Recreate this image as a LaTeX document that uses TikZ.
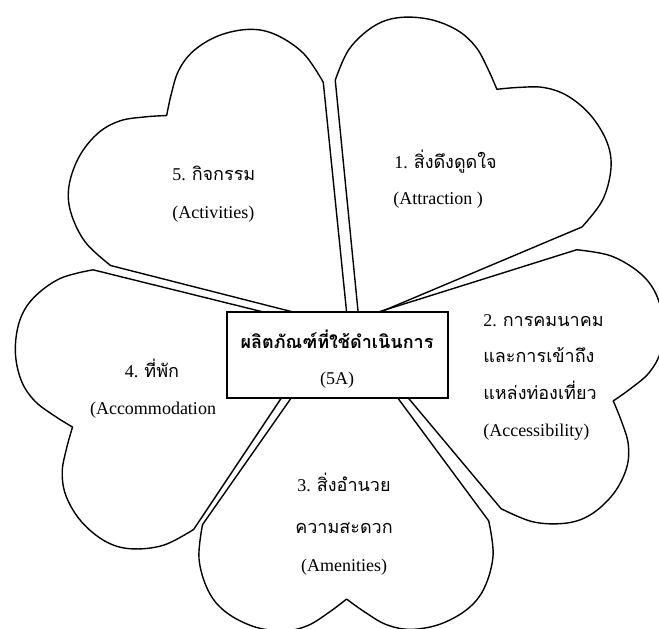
\documentclass[tikz,border=0pt]{standalone}
\usepackage{fontspec}
\setmainfont{Liberation Serif}
\newfontfamily\thai[Script=Thai]{Loma}
\tikzset{
  heartline/.style={line width=1.05pt, line join=round},
  pics/heart/.style={code={
    \draw[heartline] (0,0) -- (145,198)
      -- plot[smooth, tension=0.6] coordinates {(145,198) (149,232) (140,264) (123,285) (95,300) (65,305) (40,300) (18,287) (0,274)}
      -- plot[smooth, tension=0.6] coordinates {(0,274) (-18,287) (-40,300) (-65,305) (-95,300) (-123,285) (-140,264) (-149,232) (-145,198)}
      -- cycle;
  }},
  corebox/.style={draw, fill=white, line width=1.8pt, minimum width=165.75pt, minimum height=64.5pt, inner sep=0pt},
  lbl/.style={font=\fontsize{13.5}{16}\selectfont, inner sep=0pt, anchor=base west},
  clbl/.style={font=\fontsize{13.5}{16}\selectfont, inner sep=0pt, anchor=base},
}
\begin{document}
\begin{tikzpicture}[x=0.75pt, y=0.75pt]
\useasboundingbox (0,0) rectangle (659,628);
% hearts
\pic[shift={(359,307)}, rotate=-30.75, xscale=0.99, yscale=0.984] (h1) {heart};
\pic[shift={(345,305.5)}, rotate=-106.3, xscale=0.93, yscale=1.02] (h2) {heart};
\pic[shift={(343,304)}, rotate=-179.25, xscale=0.987, yscale=1.004] (h3) {heart};
\pic[shift={(328,300)}, rotate=111.2, xscale=0.96, yscale=1.0] (h4) {heart};
\pic[shift={(348,302)}, rotate=40.75, xscale=0.968, yscale=1.014] (h5) {heart};
% centre box
\node[corebox] (core) at (337.5,273) {};
\node[clbl] (core1) at (337,279) {\thai\bfseries ผลิตภัณฑ์ที่ใช้ดำเนินการ};
\node[clbl] (core2) at (337,243) {(5A)};
% heart 1
\node[lbl] (t1a) at (394,459) {1. {\thai สิ่งดึงดูดใจ}};
\node[lbl] (t1b) at (393,423) {(Attraction )};
% heart 5
\node[lbl] (t5a) at (172,447) {5. {\thai กิจกรรม}};
\node[lbl] (t5b) at (172,409) {(Activities)};
% heart 4
\node[clbl] (t4a) at (152,250) {4. {\thai ที่พัก}};
\node[clbl] (t4b) at (153,214) {(Accommodation};
% heart 2
\node[lbl] (t2a) at (483,301) {2. {\thai การคมนาคม}};
\node[lbl] (t2b) at (483,265) {\thai และการเข้าถึง};
\node[lbl] (t2c) at (483,228) {\thai แหล่งท่องเที่ยว};
\node[lbl] (t2d) at (483,191) {(Accessibility)};
% heart 3
\node[clbl] (t3a) at (344,137) {3. {\thai สิ่งอำนวย}};
\node[clbl] (t3b) at (344,95) {\thai ความสะดวก};
\node[clbl] (t3c) at (344,57) {(Amenities)};
\end{tikzpicture}
\end{document}
